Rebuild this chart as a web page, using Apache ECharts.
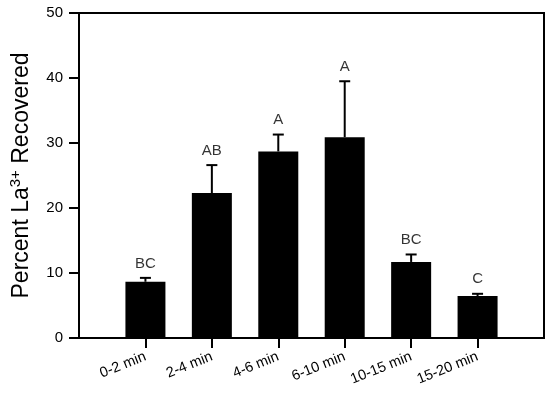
<!DOCTYPE html>
<html><head><meta charset="utf-8">
<script src="https://cdn.jsdelivr.net/npm/echarts@6/dist/echarts.min.js"></script>
<style>html,body{margin:0;padding:0;background:#fff}#c{width:550px;height:395px}</style>
</head><body><div id="c"></div>
<script>
var categories = ['0-2 min','2-4 min','4-6 min','6-10 min','10-15 min','15-20 min'];
var means = [8.65, 22.3, 28.7, 30.9, 11.7, 6.45];
var errors = [0.6, 4.3, 2.6, 8.6, 1.15, 0.35];
var letters = ['BC','AB','A','A','BC','C'];
var yTicks = [0,10,20,30,40,50];

var F = 'Liberation Sans, Arial, sans-serif';
var barData = means.map(function(v,i){return [i+1, v];});
var errData = means.map(function(v,i){return [i+1, v, v+errors[i]];});
var letterData = means.map(function(v,i){return {value:[i+1, v+errors[i]], label:{formatter: letters[i]}};});
var xPos = categories.map(function(c,i){return i+1;});

var chart = echarts.init(document.getElementById('c'));
chart.setOption({
  animation:false,
  grid:{left:79, right:6, top:13, bottom:57, show:true, borderColor:'#000', borderWidth:2, backgroundColor:'transparent',
    containLabel:false, outerBoundsMode:'none'},
  xAxis:{type:'value', min:0, max:7, interval:1,
    splitLine:{show:false},
    axisLine:{lineStyle:{color:'#000', width:2}},
    axisTick:{length:10, lineStyle:{color:'#000', width:2}, customValues:xPos},
    axisLabel:{customValues:xPos, rotate:22, color:'#000', fontFamily:F, fontSize:14.5, margin:18,
      formatter:function(v){return categories[Math.round(v)-1] || '';}}
  },
  yAxis:{type:'value', min:0, max:50, interval:10,
    splitLine:{show:false},
    axisLine:{show:true, lineStyle:{color:'#000', width:2}},
    axisTick:{show:true, length:10, lineStyle:{color:'#000', width:2}},
    axisLabel:{color:'#000', fontFamily:F, fontSize:15, margin:16,
      formatter:function(v){return yTicks.indexOf(v)>=0 ? String(v) : '';}},
    name:'Percent La{sup|3+} Recovered', nameLocation:'middle', nameGap:44,
    nameTextStyle:{color:'#000', fontFamily:F, fontSize:23,
      rich:{sup:{fontFamily:F, fontSize:15, color:'#000', verticalAlign:'top', padding:[0,0,12,0]}}}
  },
  series:[
    {type:'bar', data:barData, barWidth:40, itemStyle:{color:'#000'}, z:2},
    {type:'custom', data:errData, z:3,
      renderItem:function(params, api){
        var x = api.value(0);
        var p0 = api.coord([x, api.value(1)]);
        var p1 = api.coord([x, api.value(2)]);
        var hw = 5.5;
        return {type:'group', children:[
          {type:'line', shape:{x1:p0[0], y1:p0[1], x2:p1[0], y2:p1[1]}, style:{stroke:'#000', lineWidth:2}},
          {type:'line', shape:{x1:p1[0]-hw, y1:p1[1], x2:p1[0]+hw, y2:p1[1]}, style:{stroke:'#000', lineWidth:2}}
        ]};
      }},
    {type:'scatter', data:letterData, symbolSize:0, z:4,
      label:{show:true, position:'top', distance:7, color:'#000', fontFamily:F, fontSize:15}}
  ]
});
</script></body></html>
